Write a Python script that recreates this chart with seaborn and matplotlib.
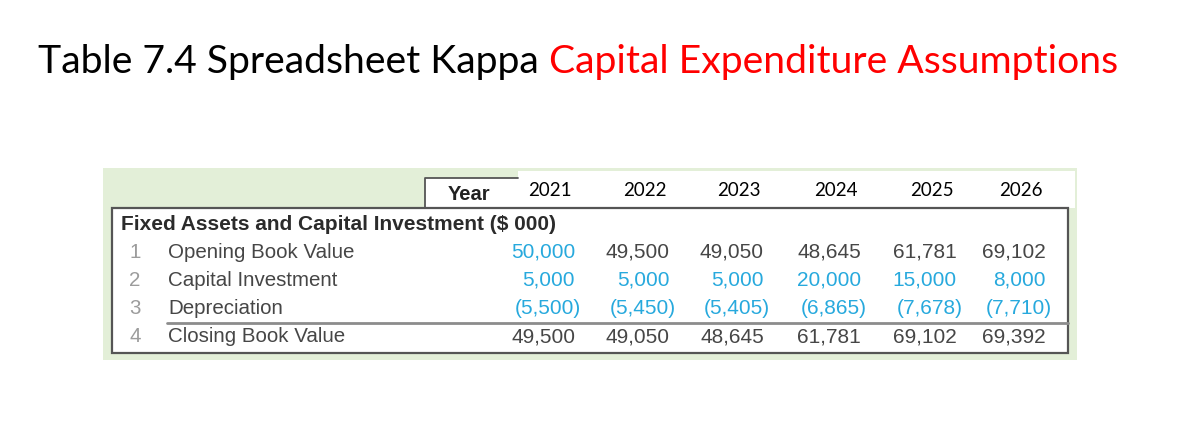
import numpy as np
import pandas as pd
import matplotlib
matplotlib.use('agg')
import matplotlib.pyplot as plt
from matplotlib.patches import Rectangle
import seaborn as sns

###### DATA
years = ['2021', '2022', '2023', '2024', '2025', '2026']
row_nums = ['1', '2', '3', '4']
row_labels = ['Opening Book Value', 'Capital Investment', 'Depreciation', 'Closing Book Value']
opening = [50000, 49500, 49050, 48645, 61781, 69102]
capex = [5000, 5000, 5000, 20000, 15000, 8000]
depreciation = [-5500, -5450, -5405, -6865, -7678, -7710]
closing = [49500, 49050, 48645, 61781, 69102, 69392]
section_title = 'Fixed Assets and Capital Investment ($ 000)'
title_black = 'Table 7.4 Spreadsheet Kappa '
title_red = 'Capital Expenditure Assumptions'

df = pd.DataFrame([opening, capex, depreciation, closing], index=row_labels, columns=years)

# which cells are inputs (blue) vs computed (gray)
is_input = np.zeros(df.shape, dtype=bool)
is_input[0, 0] = True
is_input[1, :] = True
is_input[2, :] = True


def fmt(v):
    return f"({abs(v):,})" if v < 0 else f"{v:,}"


###### STYLE
sns.set_theme(style='white')
plt.rcParams['font.family'] = ['Liberation Sans', 'DejaVu Sans']

BLUE = '#27a9dd'
GRAY = '#464646'
NUMGRAY = '#9c9c9c'
GREEN = '#e3efd8'

# layout (pixel coords of the 1200x438 canvas)
col_right = [575, 670, 764, 861, 957, 1046]
row_y = [252, 280, 309, 337]

fig = plt.figure(figsize=(12, 4.38), dpi=100)
ax = fig.add_axes([0, 0, 1, 1])
ax.set_xlim(0, 1200)
ax.set_ylim(438, 0)
ax.axis('off')

# title, two colours
t1 = ax.text(38, 62, title_black, fontsize=28.2, family='Lato', color='black', va='center', ha='left')
fig.canvas.draw()
bb = t1.get_window_extent().transformed(ax.transData.inverted())
ax.text(bb.x1, 62, title_red, fontsize=28.2, family='Lato', color='#ff0000', va='center', ha='left')

# table backgrounds and borders
ax.add_patch(Rectangle((103, 168), 974, 192, fc=GREEN, ec='none', zorder=0))
ax.add_patch(Rectangle((518, 171), 557, 37, fc='white', ec='none', zorder=1))
ax.add_patch(Rectangle((425, 178), 95, 30, fc='white', ec='none', zorder=1))
ax.plot([425, 425, 518], [208, 178, 178], color='#555555', lw=1.3, zorder=2)
ax.add_patch(Rectangle((112, 208), 956, 145, fc='white', ec='#555555', lw=1.6, zorder=2))
ax.plot([167, 1068], [323, 323], color='#8c8c8c', lw=2, zorder=3)

# header row
ax.text(490, 195, 'Year', fontsize=14.5, fontweight='bold', color='#222222', ha='right', va='center', zorder=4)
for yr, xr in zip(df.columns, col_right):
    ax.text(xr - 25, 190, yr, fontsize=13.5, family='Lato', color='black', ha='center', va='center', zorder=4)

ax.text(121, 224, section_title, fontsize=15, fontweight='bold', color='#2b2b2b', ha='left', va='center', zorder=4)

for i, (num, label) in enumerate(zip(row_nums, df.index)):
    y = row_y[i]
    ax.text(135, y, num, fontsize=14.8, color=NUMGRAY, ha='center', va='center', zorder=4)
    ax.text(168, y, label, fontsize=14.8, color=GRAY, ha='left', va='center', zorder=4)
    for j, xr in enumerate(col_right):
        v = df.iloc[i, j]
        x = xr + 6 if v < 0 else xr
        ax.text(x, y, fmt(v), fontsize=15, color=BLUE if is_input[i, j] else GRAY,
                ha='right', va='center', zorder=4)

plt.savefig('out.png', dpi=100, facecolor='white')
plt.close()
